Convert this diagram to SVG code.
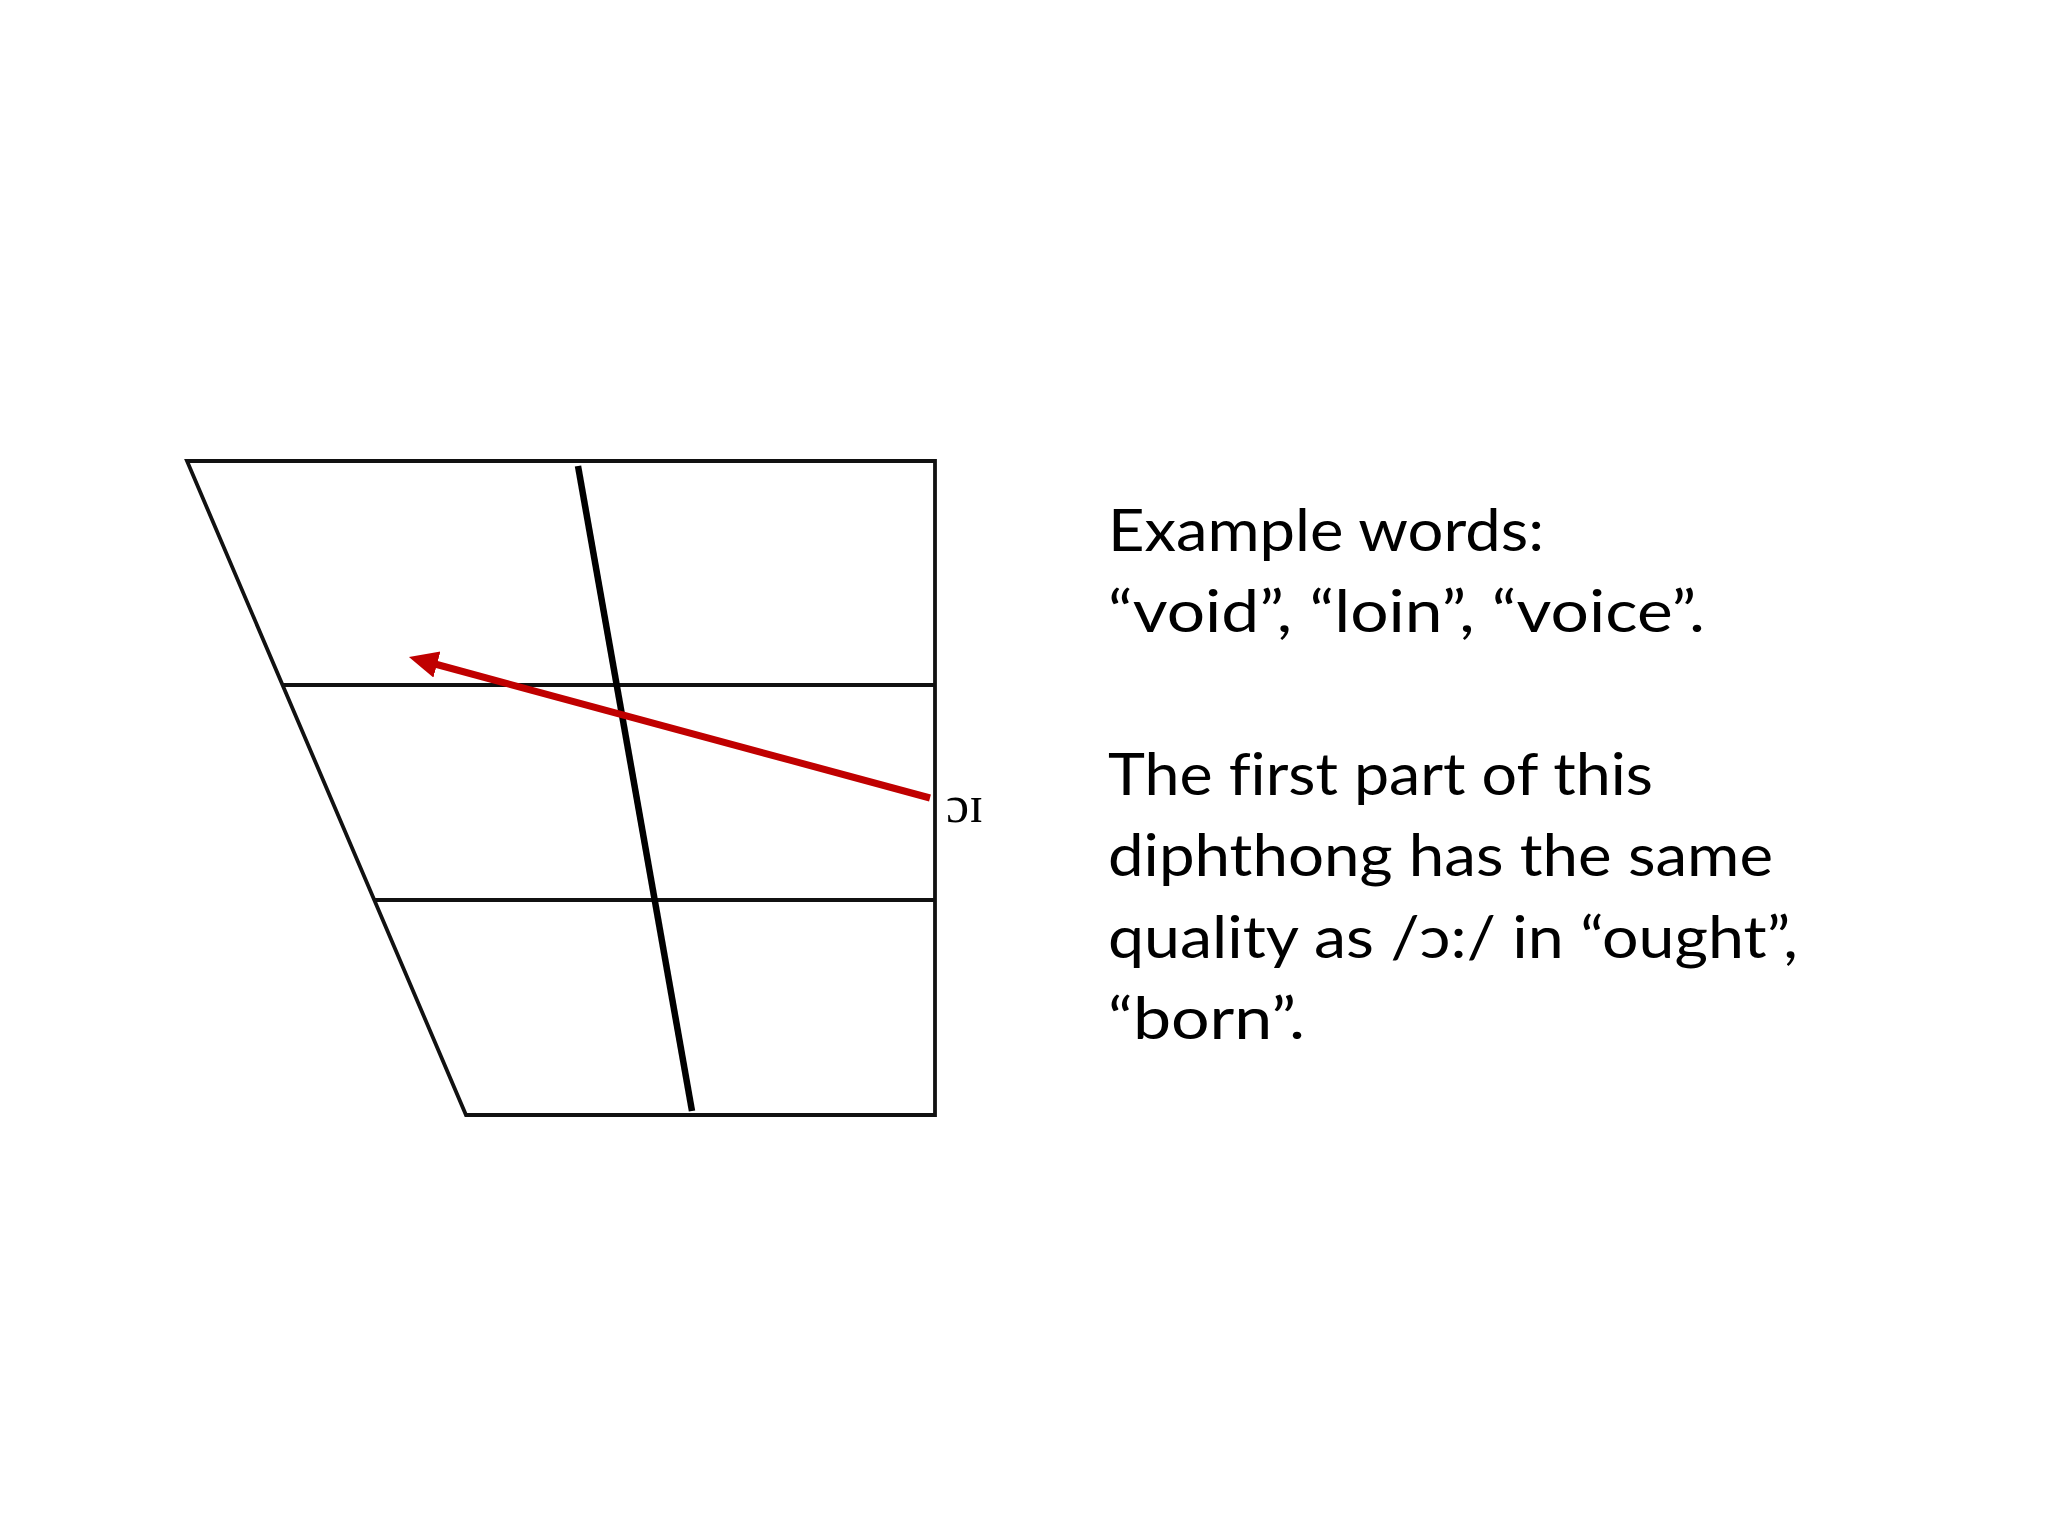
<svg xmlns="http://www.w3.org/2000/svg" width="2048" height="1536" viewBox="0 0 2048 1536">
<style>
.grid{stroke:#111;stroke-width:3.8;fill:none}
.axis{stroke:#000;stroke-width:6.5;fill:none}
.body{font-family:Lato,"Open Sans",sans-serif;font-size:58px;fill:#000;font-variant-ligatures:none}
.ipa{font-family:"Liberation Serif","DejaVu Serif",serif;font-size:52px;fill:#000}
</style>
<defs>
<marker id="head" markerUnits="userSpaceOnUse" markerWidth="40" markerHeight="40" refX="2" refY="13.5" orient="auto">
<path d="M0,0 L29,13.5 L0,27 z" fill="#C00000"/>
</marker>
</defs>
<rect width="2048" height="1536" fill="#fff"/>
<g id="vowel-chart">
<path class="grid" d="M187,461 L935,461 L935,1115 L466,1115 Z"/>
<line class="grid" x1="282" y1="685" x2="935" y2="685"/>
<line class="grid" x1="374" y1="900" x2="935" y2="900"/>
<line class="axis" x1="578" y1="466" x2="692" y2="1111"/>
</g>
<g id="connectors">
<line x1="930" y1="798" x2="435" y2="664" stroke="#C00000" stroke-width="7" marker-end="url(#head)"/>
</g>
<g id="label-oi">
<text class="ipa" x="946" y="822">ɔɪ</text>
</g>
<g id="text-block">
<text class="body" x="1108" y="551" textLength="436" lengthAdjust="spacingAndGlyphs">Example words:</text>
<text class="body" x="1108" y="632" textLength="597" lengthAdjust="spacingAndGlyphs">“void”, “loin”, “voice”.</text>
<text class="body" x="1108" y="795" textLength="545" lengthAdjust="spacingAndGlyphs">The first part of this</text>
<text class="body" x="1108" y="876" textLength="665" lengthAdjust="spacingAndGlyphs">diphthong has the same</text>
<text class="body" x="1108" y="958" textLength="690" lengthAdjust="spacingAndGlyphs">quality as /ɔ:/ in “ought”,</text>
<text class="body" x="1108" y="1039" textLength="197" lengthAdjust="spacingAndGlyphs">“born”.</text>
</g>
</svg>
